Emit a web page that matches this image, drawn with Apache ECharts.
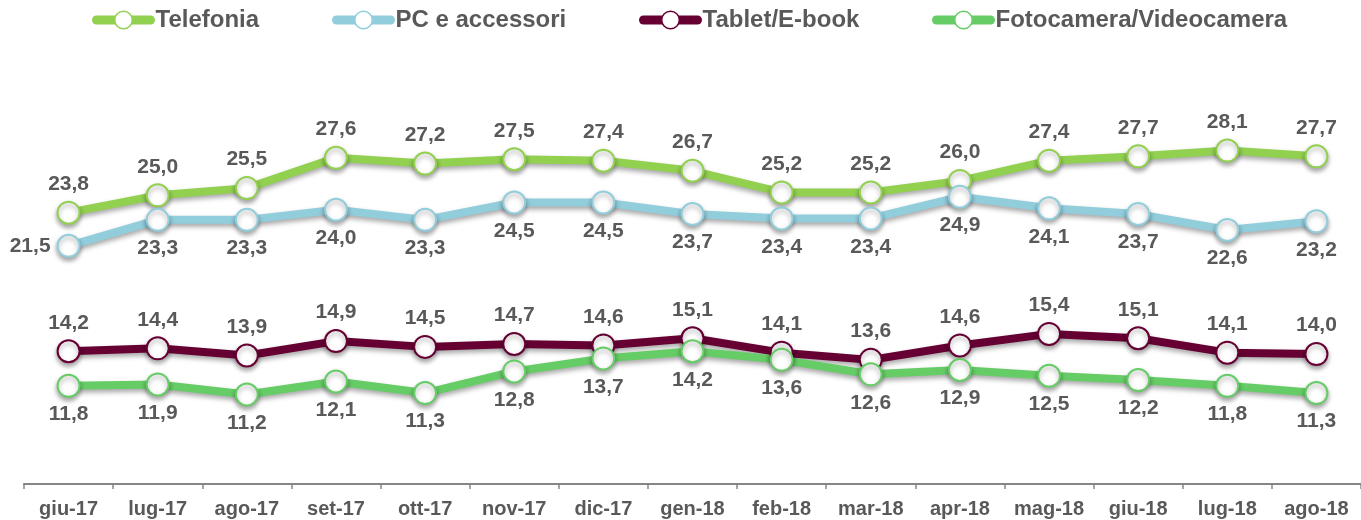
<!DOCTYPE html>
<html>
<head>
<meta charset="utf-8">
<script src="https://cdn.jsdelivr.net/npm/echarts@6/dist/echarts.min.js"></script>
<style>
	html, body { margin: 0; padding: 0; background: #fff; }
	#chart { width: 1361px; height: 520px; }
</style>
</head>
<body>
<div id="chart"></div>
<script>
	var mesi = ['giu-17', 'lug-17', 'ago-17', 'set-17', 'ott-17', 'nov-17', 'dic-17', 'gen-18', 'feb-18', 'mar-18', 'apr-18', 'mag-18', 'giu-18', 'lug-18', 'ago-18'];
	var telefonia = [23.8, 25.0, 25.5, 27.6, 27.2, 27.5, 27.4, 26.7, 25.2, 25.2, 26.0, 27.4, 27.7, 28.1, 27.7];
	var pc = [21.5, 23.3, 23.3, 24.0, 23.3, 24.5, 24.5, 23.7, 23.4, 23.4, 24.9, 24.1, 23.7, 22.6, 23.2];
	var tablet = [14.2, 14.4, 13.9, 14.9, 14.5, 14.7, 14.6, 15.1, 14.1, 13.6, 14.6, 15.4, 15.1, 14.1, 14.0];
	var fotocamera = [11.8, 11.9, 11.2, 12.1, 11.3, 12.8, 13.7, 14.2, 13.6, 12.6, 12.9, 12.5, 12.2, 11.8, 11.3];

	var nomi = ['Telefonia', 'PC e accessori', 'Tablet/E-book', 'Fotocamera/Videocamera'];
	var colori = ['#92D050', '#92CDDC', '#660033', '#66CC66'];
	var font = "'Liberation Sans', Arial, sans-serif";

	function etichetta(p) {
		return (+p.value).toFixed(1).replace('.', ',');
	}

	// una serie con linea spessa, cerchi bianchi ed etichette
	function serie(nome, dati, colore, pos) {
		return {
			name: nome,
			type: 'line',
			data: dati,
			symbol: 'circle',
			symbolSize: 22,
			lineStyle: {
				color: colore,
				width: 8,
				shadowColor: 'rgba(0,0,0,0.35)',
				shadowBlur: 5,
				shadowOffsetY: 3
			},
			itemStyle: {
				color: '#fff',
				borderColor: colore,
				borderWidth: 2,
				shadowColor: 'rgba(0,0,0,0.35)',
				shadowBlur: 5,
				shadowOffsetY: 3
			},
			label: {
				show: true,
				position: pos,
				distance: 6,
				color: '#595959',
				fontSize: 21,
				fontWeight: 'bold',
				fontFamily: font,
				formatter: etichetta
			},
			emphasis: { disabled: true }
		};
	}

	// una legenda per voce, per tenere le posizioni del riferimento
	var legendLeft = [87, 327, 634, 927];
	var legende = nomi.map(function(n, i) {
		return {
			data: [n],
			top: 3,
			left: legendLeft[i],
			itemWidth: 54,
			itemHeight: 22,
			lineStyle: { width: 9, cap: 'round' },
			itemStyle: { borderWidth: 1.5, shadowBlur: 0, shadowOffsetY: 0 },
			textStyle: {
				color: '#595959',
				fontSize: 24,
				fontWeight: 'bold',
				fontFamily: font
			}
		};
	});

	var seriePc = serie(nomi[1], pc, colori[1], 'bottom');
	// la prima etichetta PC sta a sinistra
	seriePc.data = pc.map(function(v, i) {
		return i === 0 ? { value: v, label: { position: 'left', distance: 6 } } : v;
	});

	var chart = echarts.init(document.getElementById('chart'));
	chart.setOption({
		animation: false,
		legend: legende,
		grid: {
			left: 24,
			top: 51,
			bottom: 36,
			width: 1347
		},
		xAxis: {
			type: 'category',
			data: mesi,
			boundaryGap: true,
			axisLine: { lineStyle: { color: '#868686', width: 2 } },
			axisTick: { show: true, length: 5, lineStyle: { color: '#868686', width: 1.5 } },
			axisLabel: {
				color: '#595959',
				fontSize: 20,
				fontWeight: 'bold',
				fontFamily: font,
				margin: 15,
				interval: 0
			}
		},
		yAxis: {
			type: 'value',
			min: 5,
			max: 35,
			show: false,
			splitLine: { show: false }
		},
		series: [
			serie(nomi[0], telefonia, colori[0], 'top'),
			seriePc,
			serie(nomi[2], tablet, colori[2], 'top'),
			serie(nomi[3], fotocamera, colori[3], 'bottom')
		]
	});
</script>
</body>
</html>
